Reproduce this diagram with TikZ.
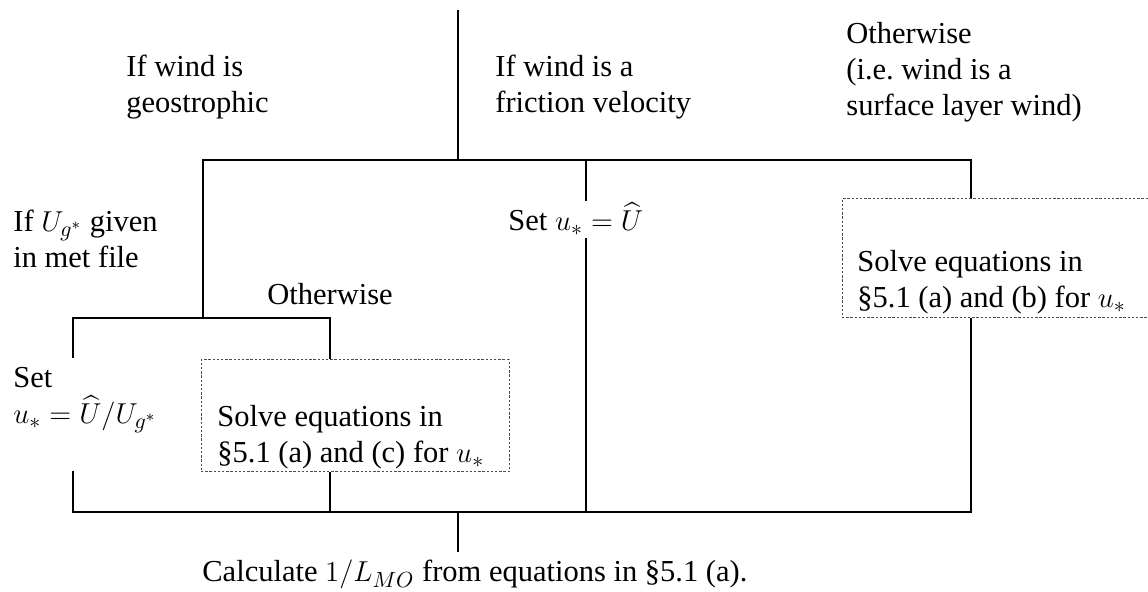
\documentclass[tikz,border=0pt]{standalone}
\usepackage{amsmath}
\usepackage{fontspec}
\setmainfont{Liberation Serif}
\usetikzlibrary{positioning,fit}
\tikzset{
  txt/.style={anchor=base west, inner sep=0pt, align=left,
    font=\fontsize{15.25}{18}\selectfont},
  dotbox/.style={draw=black!70, line width=0.5pt,
    dash pattern=on 1.2pt off 0.9pt, inner sep=0pt},
  wire/.style={line width=1.2pt},
}

\begin{document}
\begin{tikzpicture}[x=0.5pt, y=-0.5pt]
\useasboundingbox (0,0) rectangle (1148,592);

% Kinds of wind (nodes sit on the baseline of their last line)
\node[txt] (geo)  at (126,113) {If wind is\\geostrophic};
\node[txt] (fric) at (495,113) {If wind is a\\friction velocity};
\node[txt] (surf) at (846,116) {Otherwise\\(i.e.\ wind is a\\surface layer wind)};

% Geostrophic branch
\node[txt] (ugiven) at (13,268) {If $U_{g^*}$ given\\in met file};
\node[txt] (other)  at (267,305) {Otherwise};
\node[txt] (setug)  at (13,424) {Set\\$u_* = \widehat{U}/U_{g^*}$};
\node[dotbox, fit={(201,360) (509,472)}] (boxc) {};
\node[txt] (solvec) at (217,463) {Solve equations in\\\S5.1 (a) and (c) for $u_*$};

% Friction velocity and surface layer branches
\node[txt, inner sep=1pt] (setu) at (506,231) {Set $u_* = \widehat{U}$};
\node[dotbox, fit={(842,199) (1156,318)}] (boxb) {};
\node[txt] (solveb) at (857,308) {Solve equations in\\\S5.1 (a) and (b) for $u_*$};

% Result
\node[txt] (calc) at (202,582) {Calculate $1/L_{MO}$ from equations in \S5.1 (a).};

% Junctions
\coordinate (top)    at (458,10);
\coordinate (j0)     at (458,160);
\coordinate (jgeo)   at (203,160);
\coordinate (jfric)  at (586,160);
\coordinate (jsurf)  at (971,160);
\coordinate (j1)     at (203,318);
\coordinate (jset)   at (73,318);
\coordinate (jsolve) at (330,318);
\coordinate (setin)  at (73,358);
\coordinate (setout) at (73,471);
\coordinate (jend)   at (458,512);
\coordinate (calcin) at (458,552);

% Lines
\draw[wire] (top) -- (j0);
\draw[wire] (j1) -- (jgeo) -- (jsurf) -- (jsurf |- boxb.north);
\draw[wire] (jfric) -- (jfric |- setu.north);
\draw[wire] (jfric |- setu.south) -- (jfric |- jend);
\draw[wire] (setin) -- (jset) -- (jsolve) -- (jsolve |- boxc.north);
\draw[wire] (jsolve |- boxc.south) -- (jsolve |- jend);
\draw[wire] (setout) -- (setout |- jend) -- (jsurf |- jend) -- (jsurf |- boxb.south);
\draw[wire] (jend) -- (calcin);

\end{tikzpicture}
\end{document}
